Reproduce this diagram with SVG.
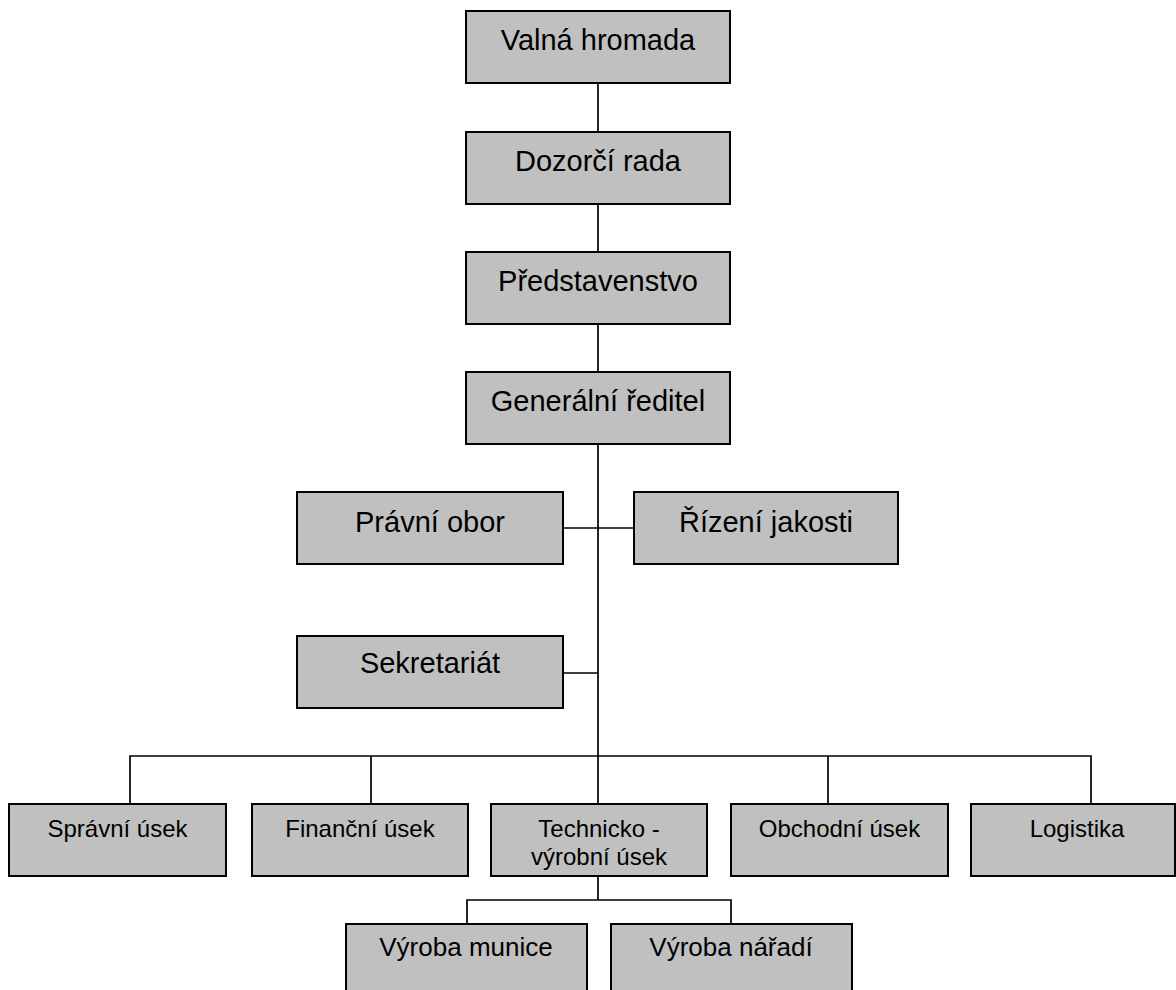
<svg xmlns="http://www.w3.org/2000/svg" width="1176" height="990" viewBox="0 0 1176 990">
<style>
  .box { fill: #c0c0c0; stroke: #000; stroke-width: 2; }
  .lbl { font-family: "Liberation Sans", Arial, sans-serif; fill: #000; text-anchor: middle; }
  .big { font-size: 29px; }
  .mid { font-size: 26px; }
  .small { font-size: 24px; }
  .conn { fill: none; stroke: #000; stroke-width: 1.7; }
</style>
<rect width="1176" height="990" fill="#fff"/>
<g id="connectors">
  <line class="conn" x1="598" y1="83" x2="598" y2="132"/>
  <line class="conn" x1="598" y1="204" x2="598" y2="252"/>
  <line class="conn" x1="598" y1="324" x2="598" y2="372"/>
  <line class="conn" x1="598" y1="444" x2="598" y2="804"/>
  <line class="conn" x1="563" y1="528" x2="634" y2="528"/>
  <line class="conn" x1="563" y1="673" x2="598" y2="673"/>
  <path class="conn" d="M130,804 V756 H1091 V804"/>
  <line class="conn" x1="371" y1="756" x2="371" y2="804"/>
  <line class="conn" x1="828" y1="756" x2="828" y2="804"/>
  <line class="conn" x1="598" y1="876" x2="598" y2="900"/>
  <path class="conn" d="M467,924 V900 H731 V924"/>
</g>
<g id="valna-hromada">
  <rect class="box" x="466" y="11" width="264" height="72"/>
  <text class="lbl big" x="598" y="50">Valná hromada</text>
</g>
<g id="dozorci-rada">
  <rect class="box" x="466" y="132" width="264" height="72"/>
  <text class="lbl big" x="598" y="171">Dozorčí rada</text>
</g>
<g id="predstavenstvo">
  <rect class="box" x="466" y="252" width="264" height="72"/>
  <text class="lbl big" x="598" y="291">Představenstvo</text>
</g>
<g id="generalni-reditel">
  <rect class="box" x="466" y="372" width="264" height="72"/>
  <text class="lbl big" x="598" y="411">Generální ředitel</text>
</g>
<g id="pravni-obor">
  <rect class="box" x="297" y="492" width="266" height="72"/>
  <text class="lbl big" x="430" y="532">Právní obor</text>
</g>
<g id="rizeni-jakosti">
  <rect class="box" x="634" y="492" width="264" height="72"/>
  <text class="lbl big" x="766" y="532">Řízení jakosti</text>
</g>
<g id="sekretariat">
  <rect class="box" x="297" y="636" width="266" height="72"/>
  <text class="lbl big" x="430" y="673">Sekretariát</text>
</g>
<g id="spravni-usek">
  <rect class="box" x="9" y="804" width="217" height="72"/>
  <text class="lbl small" x="117.5" y="837">Správní úsek</text>
</g>
<g id="financni-usek">
  <rect class="box" x="252" y="804" width="216" height="72"/>
  <text class="lbl small" x="360" y="837">Finanční úsek</text>
</g>
<g id="technicko-vyrobni-usek">
  <rect class="box" x="491" y="804" width="216" height="72"/>
  <text class="lbl small" x="599" y="837">Technicko -</text>
  <text class="lbl small" x="599" y="865">výrobní úsek</text>
</g>
<g id="obchodni-usek">
  <rect class="box" x="731" y="804" width="217" height="72"/>
  <text class="lbl small" x="839.5" y="837">Obchodní úsek</text>
</g>
<g id="logistika">
  <rect class="box" x="971" y="804" width="204" height="72"/>
  <text class="lbl small" x="1077" y="837">Logistika</text>
</g>
<g id="vyroba-munice">
  <rect class="box" x="346" y="924" width="241" height="74"/>
  <text class="lbl mid" x="466" y="956">Výroba munice</text>
</g>
<g id="vyroba-naradi">
  <rect class="box" x="611" y="924" width="241" height="74"/>
  <text class="lbl mid" x="731" y="956">Výroba nářadí</text>
</g>
</svg>
